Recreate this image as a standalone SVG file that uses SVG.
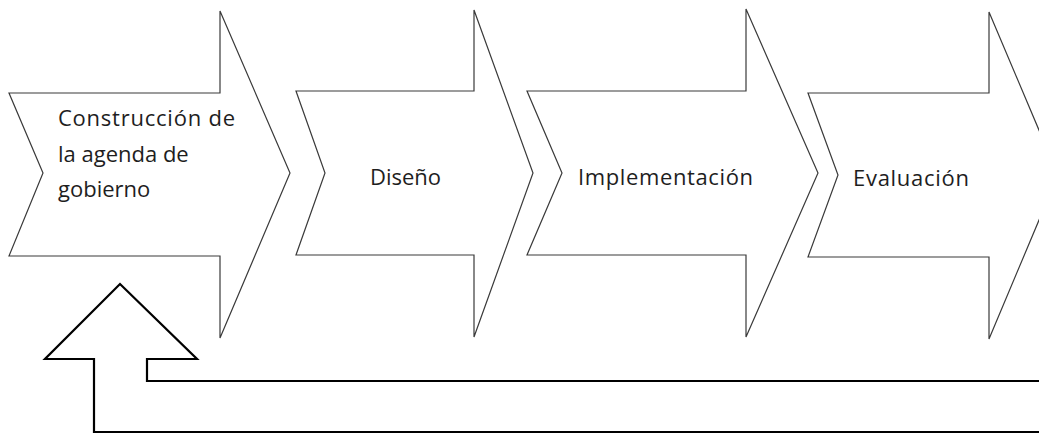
<svg xmlns="http://www.w3.org/2000/svg" width="1039" height="435" viewBox="0 0 1039 435">
<style>
.step{fill:#fff;stroke:#3a3a3a;stroke-width:1.2;stroke-linejoin:miter}
.lbl{font-family:"Open Sans","Noto Sans",sans-serif;font-size:22px;fill:#1e1e1e}
.fb{fill:#fff;stroke:#000;stroke-width:2.2;stroke-linejoin:miter}
</style>
<rect width="1039" height="435" fill="#fff"/>
<g id="connectors">
<path class="fb" d="M1045,381 L147,381 L147,359 L197,359 L120,284 L45,359 L94,359 L94,432 L1045,432"/>
</g>
<g id="node-construccion">
<polygon class="step" points="9,93 220,93 220,11 290,173 220,338 220,256 9,256 43,173"/>
<text class="lbl" x="58" y="126" textLength="177" lengthAdjust="spacing">Construcción de</text>
<text class="lbl" x="58" y="162">la agenda de</text>
<text class="lbl" x="58" y="197">gobierno</text>
</g>
<g id="node-diseno">
<polygon class="step" points="296,91 474,91 474,10 533,173 474,337 474,255 296,255 325,173"/>
<text class="lbl" x="370" y="185">Diseño</text>
</g>
<g id="node-implementacion">
<polygon class="step" points="527,91 746,91 746,9 818,173 746,337 746,255 527,255 562,173"/>
<text class="lbl" x="578" y="185" textLength="175" lengthAdjust="spacing">Implementación</text>
</g>
<g id="node-evaluacion">
<polygon class="step" points="808,93 989,93 989,12 1058,175 989,339 989,257 808,257 838,175"/>
<text class="lbl" x="853" y="186" textLength="116" lengthAdjust="spacing">Evaluación</text>
</g>
</svg>
